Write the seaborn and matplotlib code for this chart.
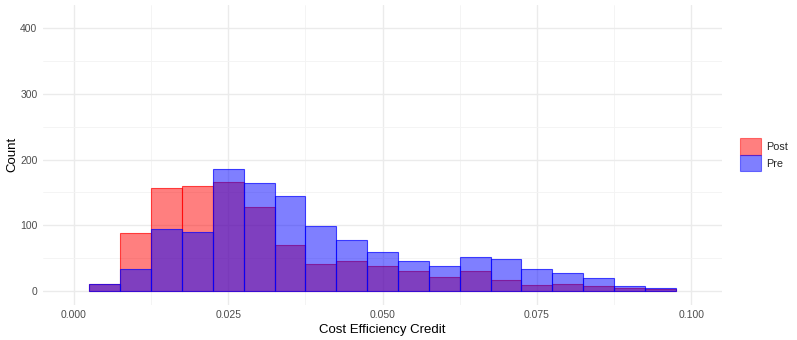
import numpy as np
import pandas as pd
import matplotlib
matplotlib.use("Agg")
import matplotlib.pyplot as plt
import seaborn as sns
from matplotlib.patches import Patch
from matplotlib.ticker import MultipleLocator

# Data: counts per bin (bin width 0.005, from 0.0025 to 0.0975)
bin_edges = [0.0025 + 0.005 * i for i in range(20)]
post_counts = [11, 89, 156, 160, 166, 128, 70, 41, 45, 38, 30, 21, 30, 17, 9, 11, 8, 4, 3]
pre_counts = [11, 33, 95, 90, 185, 164, 144, 99, 77, 60, 45, 38, 52, 48, 34, 28, 20, 8, 4]
groups = ["Post", "Pre"]
colors = {"Post": "red", "Pre": "blue"}

centers = [(bin_edges[i] + bin_edges[i + 1]) / 2 for i in range(len(bin_edges) - 1)]
df = pd.DataFrame({
    "x": centers * 2,
    "count": post_counts + pre_counts,
    "group": ["Post"] * len(centers) + ["Pre"] * len(centers),
})

sns.set_theme(style="white")
plt.rcParams["font.family"] = ["Liberation Sans", "DejaVu Sans"]

fig = plt.figure(figsize=(7.97, 3.4), dpi=100)
ax = fig.add_axes([0.054, 0.104, 0.852, 0.881])

for g in groups:
    sub = df[df["group"] == g]
    sns.histplot(data=sub, x="x", weights="count", bins=bin_edges, ax=ax,
                 color=colors[g], alpha=0.5, edgecolor=colors[g], linewidth=0.8,
                 legend=False, zorder=3)

for p in ax.patches:
    ec = p.get_edgecolor()
    p.set_edgecolor((ec[0], ec[1], ec[2], 0.7))

ax.set_xlim(-0.005, 0.105)
ax.set_ylim(-20.7, 435)
ax.xaxis.set_minor_locator(MultipleLocator(0.0125))
ax.yaxis.set_minor_locator(MultipleLocator(50))
ax.set_xticks([0, 0.025, 0.05, 0.075, 0.1])
ax.set_xticklabels(["0.000", "0.025", "0.050", "0.075", "0.100"])
ax.set_yticks([0, 100, 200, 300, 400])
ax.grid(which="major", color="#EBEBEB", linewidth=1.0, zorder=0)
ax.grid(which="minor", color="#F3F3F3", linewidth=0.6, zorder=0)
ax.set_axisbelow(True)
for s in ax.spines.values():
    s.set_visible(False)
ax.tick_params(axis="both", which="both", length=0, labelsize=7.5, labelcolor="#4D4D4D", pad=4)
ax.set_xlabel("Cost Efficiency Credit", fontsize=9.5, color="black", labelpad=3)
ax.set_ylabel("Count", fontsize=9.5, color="black", labelpad=1)

handles = [Patch(facecolor=colors[g], alpha=0.5, edgecolor=colors[g], linewidth=0.8, label=g) for g in groups]
fig.legend(handles=handles, loc="center left", bbox_to_anchor=(0.928, 0.545), frameon=False,
           handlelength=2.0, handleheight=2.0, handletextpad=0.45, labelspacing=0.0,
           fontsize=7.8, borderaxespad=0, borderpad=0)

fig.savefig("out.png", dpi=100)
